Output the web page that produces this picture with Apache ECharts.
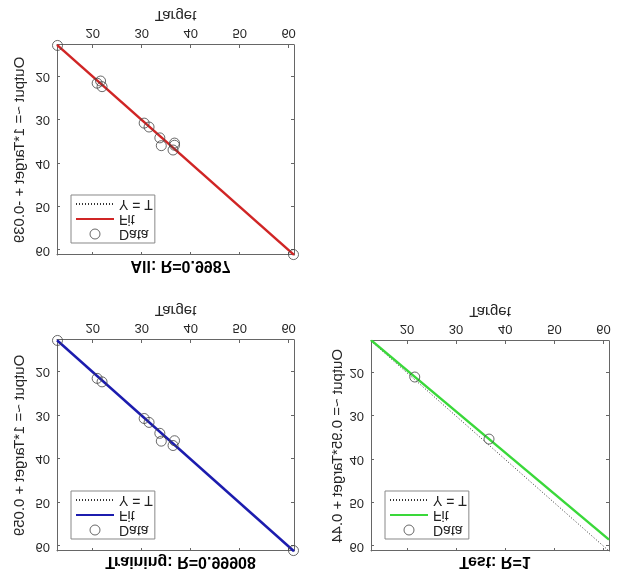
<!DOCTYPE html>
<html>
<head>
<meta charset="utf-8">
<script src="https://cdn.jsdelivr.net/npm/echarts@6/dist/echarts.min.js"></script>
<style>
html,body{margin:0;padding:0;background:#fff;}
/* the reference picture is upside down, so the whole chart is flipped */
#chart{width:619px;height:576px;transform:scaleY(-1);}
</style>
</head>
<body>
<div id="chart"></div>
<script>
// data
var trainTarget = [12.8, 20.9, 21.9, 30.5, 31.5, 33.7, 34.0, 36.7, 36.4, 61.0];
var trainOutput = [12.8, 21.5, 22.3, 30.7, 31.6, 34.1, 35.9, 35.8, 36.9, 61.0];
var testTarget = [21.6, 36.7];
var testOutput = [21.0, 35.3];

var panelTitles = ['Training: R=0.99908', 'Test: R=1', 'All: R=0.9987'];
var fitSlope = [1, 0.95, 1];
var fitIntercept = [0.059, 0.44, -0.039];
var fitLabels = ['Output ~= 1*Target + 0.059', 'Output ~= 0.95*Target + 0.44', 'Output ~= 1*Target + -0.039'];
var tickValues = [20, 30, 40, 50, 60];
var axisMin = 12.7, axisMax = 61.1;

var fitColors = ['#1c1cae', '#3ad83a', '#d02525'];
var font = 'Liberation Sans, Arial, sans-serif';

function pairs(xs, ys){
    var out = [];
    for (var i = 0; i < xs.length; i++) out.push([xs[i], ys[i]]);
    return out;
}

var panelData = [
    pairs(trainTarget, trainOutput),
    pairs(testTarget, testOutput),
    pairs(trainTarget.concat(testTarget), trainOutput.concat(testOutput))
];

var grids = [
    {left: 57, top: 25, width: 237, height: 211},
    {left: 371, top: 25, width: 238, height: 210},
    {left: 57, top: 321, width: 237, height: 210}
];
var yNameGap = [30, 24, 30];

var option = {
    backgroundColor: '#fff',
    animation: false,
    textStyle: {fontFamily: font},
    title: [], grid: [], xAxis: [], yAxis: [], legend: [], series: []
};

function boxAxis(k, pos){
    return {
        type: 'value', gridIndex: k, position: pos,
        min: axisMin, max: axisMax,
        axisLine: {show: true, onZero: false, lineStyle: {color: '#666', width: 1}},
        axisTick: {show: true, inside: true, length: 3, customValues: tickValues, lineStyle: {color: '#666'}},
        axisLabel: {show: false},
        splitLine: {show: false}
    };
}

for (var k = 0; k < 3; k++) {
    var g = grids[k];
    var tag = '|' + k;
    option.grid.push(g);
    option.title.push({
        text: panelTitles[k],
        left: g.left + g.width / 2,
        top: g.top - 23,
        textAlign: 'center',
        textStyle: {fontSize: 16, fontWeight: 'bold', color: '#000', fontFamily: font}
    });

    var xb = boxAxis(k, 'bottom');
    xb.name = 'Target';
    xb.nameLocation = 'middle';
    xb.nameGap = 22;
    xb.nameTextStyle = {fontSize: 15, color: '#262626', fontFamily: font};
    xb.axisLabel = {show: true, customValues: tickValues, margin: 6, fontSize: 13, color: '#262626', fontFamily: font};
    option.xAxis.push(xb);
    option.xAxis.push(boxAxis(k, 'top'));

    var yl = boxAxis(k, 'left');
    yl.name = fitLabels[k];
    yl.nameLocation = 'middle';
    yl.nameRotate = 90;
    yl.nameGap = yNameGap[k];
    yl.nameTextStyle = {fontSize: 15, color: '#262626', fontFamily: font};
    yl.axisLabel = {show: true, customValues: tickValues, margin: 7, fontSize: 13, color: '#262626', fontFamily: font};
    option.yAxis.push(yl);
    option.yAxis.push(boxAxis(k, 'right'));

    option.legend.push({
        data: [
            {name: 'Data' + tag, itemStyle: {borderWidth: 1}},
            {name: 'Fit' + tag, itemStyle: {opacity: 0}},
            {name: 'Y = T' + tag, itemStyle: {opacity: 0}}
        ],
        formatter: function(n){ return n.split('|')[0]; },
        orient: 'vertical',
        left: g.left + 14,
        top: g.top + 12,
        itemWidth: 38, itemHeight: 10, itemGap: 1,
        padding: [2, 2, 2, 4],
        backgroundColor: '#fff',
        borderColor: '#888', borderWidth: 1,
        selectedMode: false,
        textStyle: {fontSize: 14, lineHeight: 14, color: '#222', fontFamily: font}
    });

    var ax = 2 * k;
    option.series.push({
        name: 'Y = T' + tag, type: 'line', xAxisIndex: ax, yAxisIndex: ax,
        data: [[axisMin, axisMin], [axisMax, axisMax]],
        symbol: 'none', z: 2,
        itemStyle: {color: '#333'},
        lineStyle: {color: '#333', width: 1, type: [1, 2]}
    });
    option.series.push({
        name: 'Fit' + tag, type: 'line', xAxisIndex: ax, yAxisIndex: ax,
        data: [[axisMin, fitSlope[k] * axisMin + fitIntercept[k]], [axisMax, fitSlope[k] * axisMax + fitIntercept[k]]],
        symbol: 'none', z: 3, clip: true,
        itemStyle: {color: fitColors[k]},
        lineStyle: {color: fitColors[k], width: 2.5}
    });
    option.series.push({
        name: 'Data' + tag, type: 'scatter', xAxisIndex: ax, yAxisIndex: ax,
        data: panelData[k],
        symbol: 'circle', symbolSize: 10, z: 4,
        itemStyle: {color: 'rgba(0,0,0,0)', borderColor: '#444', borderWidth: 1}
    });
}

var myChart = echarts.init(document.getElementById('chart'));
myChart.setOption(option);
</script>
</body>
</html>
